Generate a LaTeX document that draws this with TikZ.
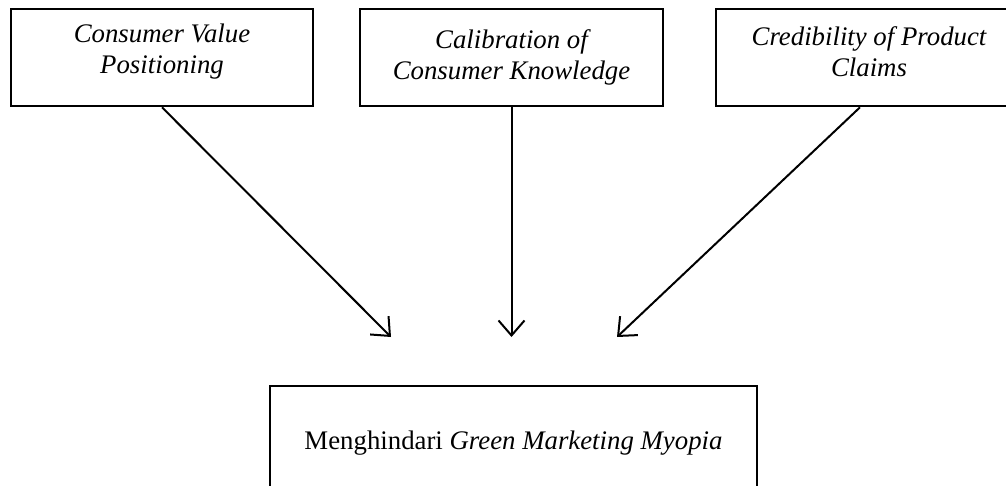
\documentclass[tikz,border=0pt]{standalone}
\usepackage{fontspec}
\setmainfont{Liberation Serif}
\usetikzlibrary{arrows.meta}

\tikzset{
  factor/.style={draw, line width=1.3pt, inner sep=0pt},
  factortext/.style={inner sep=0pt, align=center,
    font=\fontsize{13.4}{15.5}\selectfont\itshape},
  effect/.style={-{Straight Barb[length=7.5pt,width=13pt]}, line width=1pt}
}

\begin{document}
\begin{tikzpicture}[x=0.5pt,y=-0.5pt]
\useasboundingbox (0,0) rectangle (1006,486);
\clip (0,0) rectangle (1006,486);

% three factors on top
\node[factor, minimum width=151pt, minimum height=48.5pt] (cvp) at (162,57.5) {};
\node[factortext] (cvptext) at ([yshift=2.8pt]cvp.center) {Consumer Value\\Positioning};
\node[factor, minimum width=151.5pt, minimum height=48.5pt] (cck) at (511.5,57.5) {};
\node[factortext] (ccktext) at (cck.center) {Calibration of\\Consumer Knowledge};
\node[factor, minimum width=153pt, minimum height=48.5pt] (cpc) at (869,57.5) {};
\node[factortext] (cpctext) at ([yshift=2.8pt]cpc.center) {Credibility of Product\\Claims};

% goal
\node[factor, minimum width=243.5pt, minimum height=51pt] (gmm) at (513.5,437) {};
\node[factortext, font=\fontsize{13.4}{15.5}\selectfont] (gmmtext) at ([yshift=-3pt]gmm.center) {Menghindari \textit{Green Marketing Myopia}};

\coordinate (tipA) at (391,337);
\coordinate (tipB) at (511.5,337);
\coordinate (tipC) at (617,337);

\draw[effect] (cvp.south) -- (tipA);
\draw[effect] (cck.south) -- (tipB);
\draw[effect] ([xshift=-4.5pt]cpc.south) -- (tipC);
\end{tikzpicture}
\end{document}
